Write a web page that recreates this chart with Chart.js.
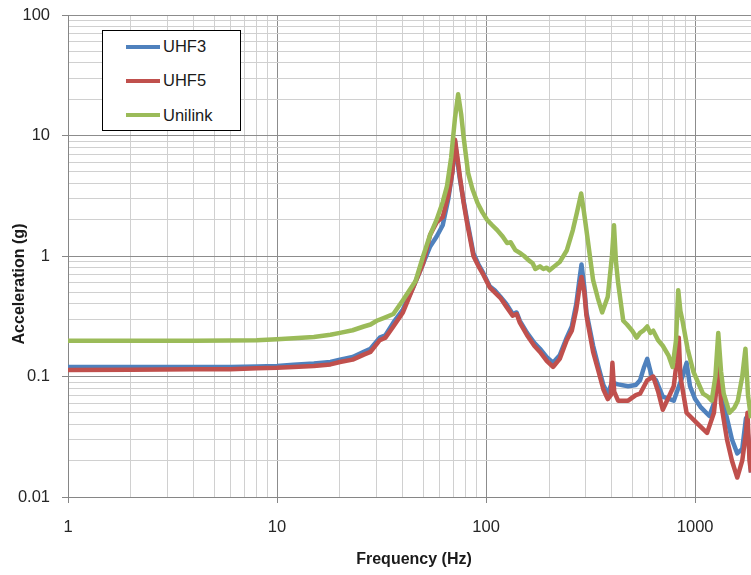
<!DOCTYPE html>
<html>
<head>
<meta charset="utf-8">
<script src="https://cdn.jsdelivr.net/npm/chart.js@4.4.1/dist/chart.umd.min.js"></script>
<style>
  html, body { margin: 0; padding: 0; background: #fff; }
  #wrap { position: relative; width: 751px; height: 575px; }
  #legend {
    position: absolute; left: 102px; top: 30px; width: 139px; height: 101px;
    box-sizing: border-box; border: 1px solid #000; background: #fff;
    font: 16.5px "Liberation Sans", Arial, sans-serif; color: #1a1a1a;
  }
  .item { position: absolute; left: 23px; height: 20px; display: flex; align-items: center; }
  .swatch { width: 34px; height: 4px; margin-right: 3px; }
</style>
</head>
<body>
<div id="wrap">
  <canvas id="chart" width="751" height="575"></canvas>
  <div id="legend"></div>
</div>
<script>
// Series names, axis titles
const seriesNames = ['UHF3', 'UHF5', 'Unilink'];
const xTitle = 'Frequency (Hz)';
const yTitle = 'Acceleration (g)';

// Decade tick labels
const xMajorTicks = [1, 10, 100, 1000];
const yMajorTicks = [0.01, 0.1, 1, 10, 100];

// UHF3 (blue)
const uhf3Freq = [1, 2, 4, 6, 8, 10, 12, 15, 18, 20, 23, 26, 28, 31, 33, 36, 40, 45, 50, 54,
  58, 62, 66, 69, 71, 73, 75, 78, 81, 87, 92, 97, 104, 110, 117, 125, 134, 140, 145, 157,
  170, 181, 195, 209, 225, 243, 257, 270, 280, 286, 295, 302, 325, 345, 364, 382, 400, 428, 478, 520,
  545, 570, 590, 620, 650, 700, 790, 830, 870, 910, 945, 1000, 1060, 1170, 1230, 1260, 1290, 1350, 1420, 1500,
  1590, 1680, 1750, 1800, 1850];
const uhf3Acc = [0.12, 0.12, 0.12, 0.12, 0.121, 0.122, 0.125, 0.128, 0.132, 0.138, 0.145, 0.16, 0.17, 0.21, 0.22, 0.28, 0.36, 0.56, 0.87, 1.2,
  1.45, 1.8, 3.0, 5.0, 9.0, 6.0, 4.3, 2.9, 2.0, 1.05, 0.85, 0.72, 0.56, 0.52, 0.46, 0.4, 0.33, 0.34, 0.29, 0.23,
  0.19, 0.17, 0.145, 0.13, 0.15, 0.21, 0.26, 0.4, 0.65, 0.85, 0.55, 0.34, 0.18, 0.12, 0.085, 0.072, 0.089, 0.086, 0.083, 0.085,
  0.093, 0.12, 0.14, 0.1, 0.093, 0.068, 0.063, 0.08, 0.1, 0.13, 0.083, 0.065, 0.056, 0.047, 0.06, 0.08, 0.09, 0.065, 0.045, 0.03,
  0.023, 0.025, 0.045, 0.03, 0.016];

// UHF5 (red)
const uhf5Freq = [1, 2, 4, 6, 8, 10, 12, 15, 18, 20, 23, 26, 28, 31, 33, 36, 40, 45, 50, 54,
  58, 62, 66, 69, 71, 73, 75, 78, 81, 87, 92, 97, 104, 110, 117, 125, 134, 140, 145, 157,
  170, 181, 195, 209, 225, 243, 257, 270, 280, 286, 295, 302, 325, 345, 364, 382, 395, 402, 410, 428,
  478, 520, 545, 590, 630, 665, 700, 790, 815, 835, 850, 910, 1020, 1140, 1230, 1280, 1300, 1330, 1420, 1500,
  1590, 1680, 1750, 1780, 1820, 1850];
const uhf5Acc = [0.113, 0.114, 0.115, 0.115, 0.117, 0.118, 0.12, 0.122, 0.126, 0.132, 0.138, 0.152, 0.16, 0.2, 0.21, 0.26, 0.34, 0.56, 0.87, 1.5,
  1.9, 2.1, 3.2, 5.0, 9.2, 6.5, 4.5, 2.8, 1.9, 1.0, 0.82, 0.7, 0.55, 0.5, 0.45, 0.38, 0.32, 0.33, 0.28, 0.22,
  0.18, 0.16, 0.135, 0.12, 0.14, 0.2, 0.24, 0.36, 0.55, 0.67, 0.5, 0.32, 0.16, 0.11, 0.078, 0.065, 0.07, 0.13, 0.075, 0.063,
  0.063, 0.07, 0.072, 0.093, 0.1, 0.075, 0.053, 0.083, 0.13, 0.21, 0.1, 0.05, 0.041, 0.034, 0.05, 0.1, 0.12, 0.06, 0.03, 0.02,
  0.0145, 0.02, 0.034, 0.05, 0.02, 0.016];

// Unilink (green)
const unilinkFreq = [1, 2, 4, 6, 8, 10, 12, 15, 18, 20, 23, 26, 28, 30, 33, 36, 40, 43, 46, 50,
  54, 58, 62, 65, 68, 71, 73.5, 76, 78, 82, 86, 91, 96, 101, 107, 113, 120, 126, 131, 138,
  145, 152, 160, 167, 172, 181, 188, 195, 201, 212, 225, 243, 260, 272, 285, 293, 302, 325, 342, 359,
  382, 400, 409, 418, 428, 453, 472, 500, 525, 545, 565, 590, 610, 630, 665, 700, 745, 780, 810, 830,
  850, 870, 920, 980, 1030, 1090, 1150, 1200, 1250, 1290, 1330, 1370, 1460, 1540, 1600, 1680, 1740, 1790, 1850];
const unilinkAcc = [0.198, 0.198, 0.198, 0.199, 0.2, 0.204, 0.208, 0.213, 0.222, 0.23, 0.242, 0.26, 0.27, 0.29, 0.31, 0.33, 0.43, 0.52, 0.62, 1.0,
  1.5, 2.0, 2.8, 3.8, 6.5, 14, 22, 15, 9.8, 4.9, 3.6, 2.75, 2.3, 2.0, 1.8, 1.64, 1.45, 1.28, 1.3, 1.12,
  1.06, 1.0, 0.92, 0.87, 0.78, 0.82, 0.78, 0.8, 0.76, 0.82, 0.89, 1.11, 1.64, 2.3, 3.3, 2.4, 1.64, 0.63, 0.45, 0.34,
  0.46, 1.0, 1.8, 0.9, 0.6, 0.29, 0.27, 0.24, 0.21, 0.23, 0.24, 0.26, 0.23, 0.24, 0.2, 0.18, 0.15, 0.12, 0.2, 0.52,
  0.35, 0.29, 0.17, 0.11, 0.09, 0.072, 0.068, 0.063, 0.1, 0.23, 0.11, 0.072, 0.05, 0.055, 0.063, 0.1, 0.17, 0.07, 0.045];

const seriesColors = ['#4F81BD', '#C0504D', '#9BBB59'];

const toPoints = (xs, ys) => xs.map((x, i) => ({ x: x, y: ys[i] }));

// log grid: decades plus 2..9 in between
function logTicks(majors, max) {
  const out = [];
  majors.forEach(m => {
    out.push(m);
    for (let k = 2; k <= 9; k++) {
      const v = +(m * k).toPrecision(6);
      if (v <= max) out.push(v);
    }
  });
  return out.filter(v => v <= max);
}

const X_MAX = 1850;
const xTickValues = logTicks(xMajorTicks, X_MAX);
const yTickValues = logTicks(yMajorTicks, 100);

const isMajor = (list, v) => list.some(m => Math.abs(m - v) < m * 1e-6);

const tickFont = { family: '"Liberation Sans", Arial, sans-serif', size: 16.5 };

const axisTitles = {
  id: 'axisTitles',
  afterDraw(chart) {
    const ctx = chart.ctx;
    ctx.save();
    ctx.fillStyle = '#1a1a1a';
    ctx.font = 'bold 16px "Liberation Sans", Arial, sans-serif';
    ctx.textAlign = 'center';
    ctx.textBaseline = 'middle';
    ctx.fillText(xTitle, 414, 560);
    ctx.translate(19.5, 284);
    ctx.rotate(-Math.PI / 2);
    ctx.fillText(yTitle, 0, 0);
    ctx.restore();
  }
};

const datasets = [
  { label: seriesNames[0], data: toPoints(uhf3Freq, uhf3Acc), order: 3 },
  { label: seriesNames[1], data: toPoints(uhf5Freq, uhf5Acc), order: 2 },
  { label: seriesNames[2], data: toPoints(unilinkFreq, unilinkAcc), order: 1 }
].map((d, i) => Object.assign(d, {
  borderColor: seriesColors[i],
  backgroundColor: seriesColors[i],
  borderWidth: 4.5,
  pointRadius: 0,
  tension: 0,
  fill: false,
  borderJoinStyle: 'round'
}));

const chart = new Chart(document.getElementById('chart'), {
  type: 'line',
  data: { datasets: datasets },
  options: {
    responsive: false,
    animation: false,
    devicePixelRatio: 1,
    layout: { padding: { top: 15, right: 0, left: 0, bottom: 0 } },
    plugins: { legend: { display: false }, tooltip: { enabled: false } },
    scales: {
      x: {
        type: 'logarithmic',
        min: 1,
        max: X_MAX,
        afterBuildTicks: s => { s.ticks = xTickValues.map(v => ({ value: v })); },
        afterFit: s => { s.height = 78; s.paddingLeft = 0; s.paddingRight = 0; },
        ticks: {
          autoSkip: false, maxRotation: 0, padding: 15, color: '#262626', font: tickFont,
          callback: v => isMajor(xMajorTicks, v) ? String(v) : ''
        },
        grid: {
          lineWidth: 1,
          tickLength: 6,
          color: c => (c.tick && isMajor(xMajorTicks, c.tick.value)) ? '#8c8c8c' : '#d0d0d0',
          tickColor: c => (c.tick && isMajor(xMajorTicks, c.tick.value)) ? '#868686' : 'rgba(0,0,0,0)'
        },
        border: { color: '#868686', width: 1 }
      },
      y: {
        type: 'logarithmic',
        min: 0.01,
        max: 100,
        afterBuildTicks: s => { s.ticks = yTickValues.map(v => ({ value: v })); },
        afterFit: s => { s.width = 68; s.paddingTop = 0; s.paddingBottom = 0; },
        ticks: {
          autoSkip: false, padding: 12, color: '#262626', font: tickFont,
          callback: v => isMajor(yMajorTicks, v) ? String(v) : ''
        },
        grid: {
          lineWidth: 1,
          tickLength: 6,
          color: c => (c.tick && isMajor(yMajorTicks, c.tick.value)) ? '#8c8c8c' : '#d0d0d0',
          tickColor: c => (c.tick && isMajor(yMajorTicks, c.tick.value)) ? '#868686' : 'rgba(0,0,0,0)'
        },
        border: { color: '#868686', width: 1 }
      }
    }
  },
  plugins: [axisTitles]
});

// Legend box drawn from the chart's own datasets
const legendEl = document.getElementById('legend');
const rowTops = [5.7, 39.7, 74];
chart.data.datasets.forEach((ds, i) => {
  const item = document.createElement('div');
  item.className = 'item';
  item.style.top = rowTops[i] + 'px';
  const sw = document.createElement('span');
  sw.className = 'swatch';
  sw.style.background = ds.borderColor;
  const txt = document.createElement('span');
  txt.textContent = ds.label;
  item.appendChild(sw);
  item.appendChild(txt);
  legendEl.appendChild(item);
});
</script>
</body>
</html>
